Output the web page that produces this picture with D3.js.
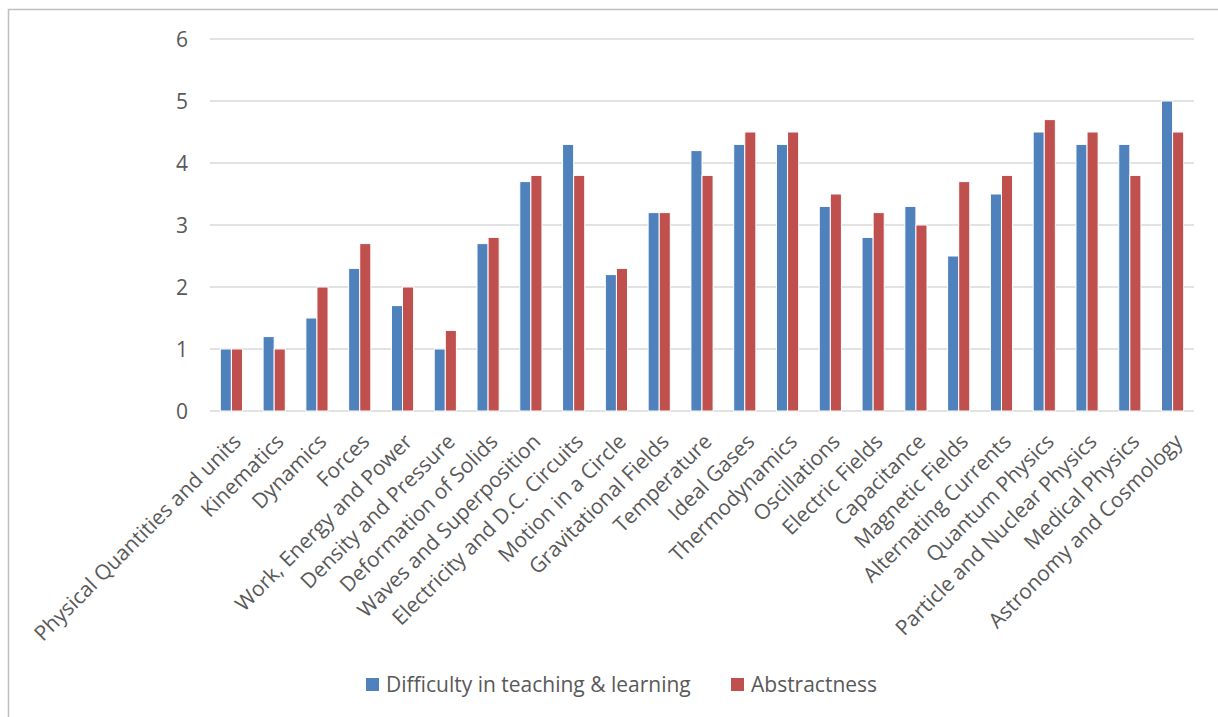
<!DOCTYPE html>
<html>
<head>
<meta charset="utf-8">
<script src="https://cdn.jsdelivr.net/npm/d3@7"></script>
<style>
  body { margin: 0; background: #fff; }
  text { font-family: "Open Sans", sans-serif; fill: #595959; }
</style>
</head>
<body>
<div id="chart"></div>
<script>
const categories = [
    'Physical Quantities and units', 'Kinematics', 'Dynamics', 'Forces',
    'Work, Energy and Power', 'Density and Pressure', 'Deformation of Solids',
    'Waves and Superposition', 'Electricity and D.C. Circuits', 'Motion in a Circle',
    'Gravitational Fields', 'Temperature', 'Ideal Gases', 'Thermodynamics',
    'Oscillations', 'Electric Fields', 'Capacitance', 'Magnetic Fields',
    'Alternating Currents', 'Quantum Physics', 'Particle and Nuclear Physics',
    'Medical Physics', 'Astronomy and Cosmology'
];
const difficulty = [1, 1.2, 1.5, 2.3, 1.7, 1, 2.7, 3.7, 4.3, 2.2, 3.2, 4.2, 4.3, 4.3, 3.3, 2.8, 3.3, 2.5, 3.5, 4.5, 4.3, 4.3, 5];
const abstractness = [1, 1, 2, 2.7, 2, 1.3, 2.8, 3.8, 3.8, 2.3, 3.2, 3.8, 4.5, 4.5, 3.5, 3.2, 3.0, 3.7, 3.8, 4.7, 4.5, 3.8, 4.5];
const seriesNames = ['Difficulty in teaching & learning', 'Abstractness'];
const yTicks = [0, 1, 2, 3, 4, 5, 6];

const width = 1218;
const height = 717;
const colors = d3.scaleOrdinal().domain(seriesNames).range(['#4f81bd', '#c0504d']);

const svg = d3.select('#chart')
    .append('svg')
    .attr('width', width)
    .attr('height', height);

// chart frame
svg.append('rect')
    .attr('x', 8.5).attr('y', 9.5)
    .attr('width', 1240).attr('height', 730)
    .attr('fill', 'none')
    .attr('stroke', '#bfbfbf')
    .attr('stroke-width', 1.5);

const x0 = d3.scaleBand()
    .domain(categories)
    .range([210, 1194]);

const x1 = d3.scaleBand()
    .domain(seriesNames)
    .range([0, x0.bandwidth()])
    .paddingOuter(0.93);

const y = d3.scaleLinear()
    .domain([0, 6])
    .range([411, 39]);

// gridlines
svg.append('g')
    .selectAll('line')
    .data(yTicks)
    .enter()
    .append('line')
    .attr('x1', 210).attr('x2', 1194)
    .attr('y1', d => y(d)).attr('y2', d => y(d))
    .attr('stroke', '#d9d9d9')
    .attr('stroke-width', 1.5);

// y labels
svg.append('g')
    .selectAll('text')
    .data(yTicks)
    .enter()
    .append('text')
    .attr('x', 188)
    .attr('y', d => y(d))
    .attr('dy', '0.36em')
    .attr('text-anchor', 'end')
    .style('font-size', '21px')
    .text(d => d);

const rows = categories.map((c, i) => ({
    category: c,
    values: [
        { key: seriesNames[0], value: difficulty[i] },
        { key: seriesNames[1], value: abstractness[i] }
    ]
}));

const groups = svg.append('g')
    .selectAll('g')
    .data(rows)
    .enter()
    .append('g')
    .attr('transform', d => `translate(${x0(d.category)},0)`);

groups.selectAll('rect')
    .data(d => d.values)
    .enter()
    .append('rect')
    .attr('x', d => x1(d.key))
    .attr('y', d => y(d.value))
    .attr('width', x1.bandwidth())
    .attr('height', d => y(0) - y(d.value))
    .attr('fill', d => colors(d.key))
    .attr('stroke', '#fff')
    .attr('stroke-width', 1);

// category labels, rotated
svg.append('g')
    .selectAll('text')
    .data(categories)
    .enter()
    .append('text')
    .attr('transform', d => `translate(${x0(d) + x0.bandwidth() / 2 + 11},${443}) rotate(-45)`)
    .attr('text-anchor', 'end')
    .style('font-size', '21px')
    .text(d => d);

// legend
const legend = svg.append('g')
    .attr('transform', 'translate(366,678)');

const legendX = [0, 365];
legend.selectAll('rect')
    .data(seriesNames)
    .enter()
    .append('rect')
    .attr('x', (d, i) => legendX[i])
    .attr('y', 0)
    .attr('width', 13).attr('height', 13)
    .attr('fill', d => colors(d));

legend.selectAll('text')
    .data(seriesNames)
    .enter()
    .append('text')
    .attr('x', (d, i) => legendX[i] + 20)
    .attr('y', 14)
    .style('font-size', '21px')
    .text(d => d);
</script>
</body>
</html>
